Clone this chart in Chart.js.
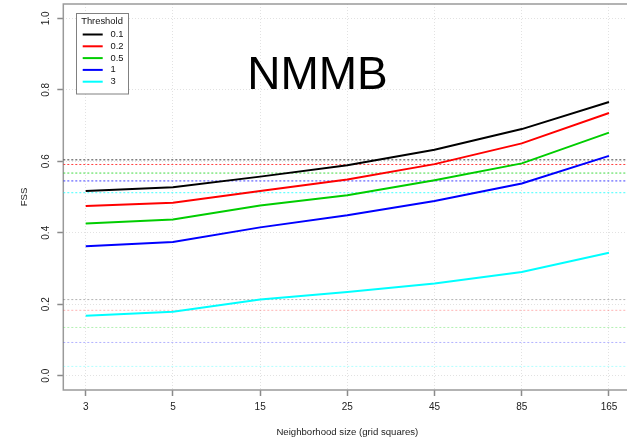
<!DOCTYPE html>
<html>
<head>
<meta charset="utf-8">
<script src="https://cdn.jsdelivr.net/npm/chart.js@4/dist/chart.umd.min.js"></script>
<style>
  html, body { margin: 0; padding: 0; background: #fff; overflow: hidden; }
  #wrap { position: relative; width: 660px; height: 439px; }
</style>
</head>
<body>
<div id="wrap"><canvas id="c" width="660" height="439"></canvas></div>
<script>
// ---- data ----
const categories = ['3', '5', '15', '25', '45', '85', '165'];
const thresholds = ['0.1', '0.2', '0.5', '1', '3'];
const fss01 = [0.517, 0.527, 0.557, 0.589, 0.632, 0.690, 0.766];
const fss02 = [0.475, 0.484, 0.517, 0.549, 0.592, 0.650, 0.735];
const fss05 = [0.426, 0.437, 0.476, 0.505, 0.547, 0.594, 0.680];
const fss1  = [0.362, 0.374, 0.415, 0.449, 0.489, 0.538, 0.615];
const fss3  = [0.168, 0.179, 0.213, 0.234, 0.258, 0.290, 0.344];
const uniformFSS = [0.604, 0.591, 0.567, 0.545, 0.512];
const randomFSS  = [0.213, 0.183, 0.135, 0.093, 0.026];
const yTickValues = [0, 0.2, 0.4, 0.6, 0.8, 1.0];
const yTickLabels = ['0.0', '0.2', '0.4', '0.6', '0.8', '1.0'];
const chartTitle = 'NMMB';
const xTitle = 'Neighborhood size (grid squares)';
const yTitle = 'FSS';
const legendTitle = 'Threshold';

// ---- styles ----
const seriesValues = [fss01, fss02, fss05, fss1, fss3];
const colors = ['#000000', '#ff0000', '#00cd00', '#0000ff', '#00ffff'];
const rgb = [[0,0,0],[255,0,0],[0,205,0],[0,0,255],[0,255,255]];
const FONT = 'Liberation Sans, Arial, Helvetica, sans-serif';
const X_MIN = -0.257, X_MAX = 6.257;

const datasets = [];
seriesValues.forEach((vals, i) => {
  datasets.push({
    label: thresholds[i],
    data: vals.map((v, j) => ({ x: j, y: v })),
    borderColor: colors[i],
    borderWidth: 2,
    pointRadius: 0,
    tension: 0,
    fill: false
  });
});
uniformFSS.forEach((v, i) => {
  const c = rgb[i];
  datasets.push({
    label: 'uniform ' + thresholds[i],
    data: [{ x: X_MIN, y: v }, { x: X_MAX, y: v }],
    borderColor: `rgba(${c[0]},${c[1]},${c[2]},0.75)`,
    borderWidth: 1,
    borderDash: [2, 2],
    pointRadius: 0,
    fill: false
  });
});
randomFSS.forEach((v, i) => {
  const c = rgb[i];
  datasets.push({
    label: 'random ' + thresholds[i],
    data: [{ x: X_MIN, y: v }, { x: X_MAX, y: v }],
    borderColor: `rgba(${c[0]},${c[1]},${c[2]},0.3)`,
    borderWidth: 1,
    borderDash: [2, 2],
    pointRadius: 0,
    fill: false
  });
});

const decor = {
  id: 'decor',
  beforeDatasetsDraw(chart) {
    const { ctx, chartArea: a } = chart;
    ctx.save();
    ctx.strokeStyle = '#9a9a9a';
    ctx.lineWidth = 1.5;
    ctx.strokeRect(a.left, a.top, a.right - a.left, a.bottom - a.top);
    ctx.restore();
  },
  afterDraw(chart) {
    const { ctx } = chart;
    const ys = chart.scales.y;
    // rotated y tick labels
    ctx.save();
    ctx.fillStyle = '#222';
    ctx.font = '10px ' + FONT;
    ctx.textAlign = 'center';
    ctx.textBaseline = 'middle';
    yTickValues.forEach((v, i) => {
      const py = ys.getPixelForValue(v);
      ctx.save();
      ctx.translate(46.5, py);
      ctx.rotate(-Math.PI / 2);
      ctx.fillText(yTickLabels[i], 0, 0);
      ctx.restore();
    });
    ctx.restore();

    // big title
    ctx.save();
    ctx.fillStyle = '#000';
    ctx.font = '46px ' + FONT;
    ctx.textAlign = 'center';
    ctx.textBaseline = 'alphabetic';
    ctx.fillText(chartTitle, 317.5, 88.5);
    ctx.restore();

    // legend
    ctx.save();
    const bx = 76, by = 13.5, bw = 52, bh = 80.5;
    ctx.fillStyle = '#fff';
    ctx.fillRect(bx, by, bw, bh);
    ctx.strokeStyle = '#808080';
    ctx.lineWidth = 1;
    ctx.strokeRect(bx + 0.5, by, bw, bh);
    ctx.fillStyle = '#111';
    ctx.font = '9.4px ' + FONT;
    ctx.textAlign = 'center';
    ctx.textBaseline = 'middle';
    ctx.fillText(legendTitle, 102, 21.7);
    ctx.textAlign = 'left';
    thresholds.forEach((t, i) => {
      const yy = 34.5 + i * 11.8;
      ctx.strokeStyle = colors[i];
      ctx.lineWidth = 2;
      ctx.beginPath();
      ctx.moveTo(82.7, yy);
      ctx.lineTo(102.7, yy);
      ctx.stroke();
      ctx.fillStyle = '#111';
      ctx.fillText(t, 110.5, yy);
    });
    ctx.restore();
  }
};

new Chart(document.getElementById('c'), {
  type: 'line',
  data: { datasets },
  options: {
    responsive: false,
    animation: false,
    layout: { padding: { left: 0, top: 4, right: 28.6, bottom: 0 } },
    plugins: { legend: { display: false }, tooltip: { enabled: false }, title: { display: false } },
    scales: {
      x: {
        type: 'linear',
        min: X_MIN,
        max: X_MAX,
        afterBuildTicks(scale) { scale.ticks = categories.map((c, i) => ({ value: i })); },
        afterFit(scale) { scale.height = 49; },
        ticks: {
          autoSkip: false,
          maxRotation: 0,
          padding: 5,
          color: '#222',
          font: { family: FONT, size: 10, lineHeight: 1.2 },
          callback: (v) => categories[v]
        },
        grid: {
          color: '#e2e2e2',
          lineWidth: 1,
          drawTicks: true,
          tickLength: 6,
          tickColor: '#8a8a8a',
          tickWidth: 1.5,
          tickBorderDash: []
        },
        border: { display: false, dash: [1, 2] },
        title: {
          display: true,
          text: xTitle,
          color: '#222',
          font: { family: FONT, size: 9.6, lineHeight: 1.2 },
          padding: { top: 0, bottom: 1.3 }
        }
      },
      y: {
        type: 'linear',
        min: -0.04,
        max: 1.04,
        afterBuildTicks(scale) { scale.ticks = yTickValues.map(v => ({ value: v })); },
        afterFit(scale) { scale.width = 63.3; },
        ticks: { display: false },
        grid: {
          color: '#e2e2e2',
          lineWidth: 1,
          drawTicks: true,
          tickLength: 6,
          tickColor: '#8a8a8a',
          tickWidth: 1.5,
          tickBorderDash: []
        },
        border: { display: false, dash: [1, 2] },
        title: {
          display: true,
          text: yTitle,
          color: '#222',
          font: { family: FONT, size: 9.6, lineHeight: 1.2 },
          padding: { top: 18.2, bottom: 0 }
        }
      }
    }
  },
  plugins: [decor]
});
</script>
</body>
</html>
